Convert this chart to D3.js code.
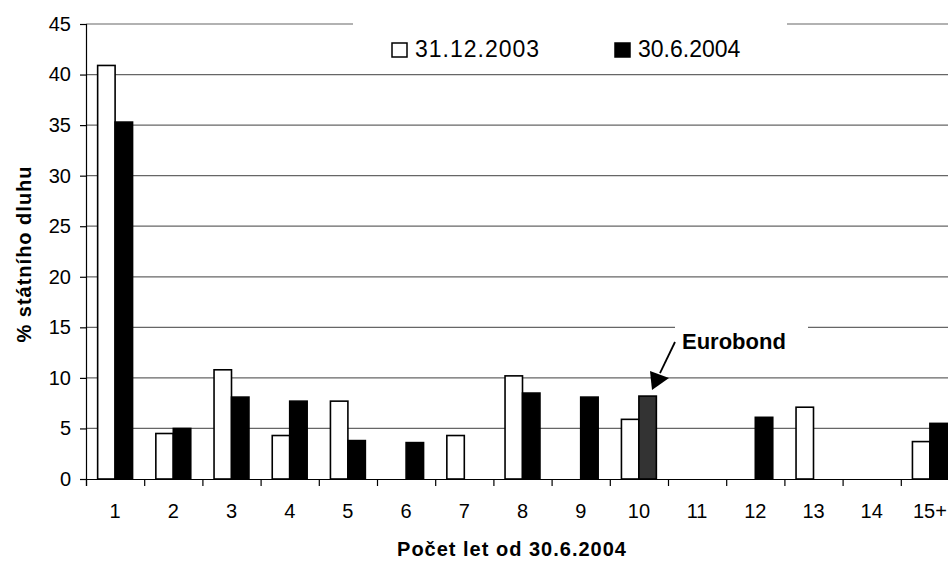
<!DOCTYPE html>
<html>
<head>
<meta charset="utf-8">
<script src="https://cdn.jsdelivr.net/npm/d3@7"></script>
<style>
  body { margin: 0; background: #fff; }
  svg { display: block; font-family: "Liberation Sans", Arial, sans-serif; }
</style>
</head>
<body>
<div class="chart-container"></div>
<script>
// categories = years from 30.6.2004, values = % of state debt
const categories = ["1", "2", "3", "4", "5", "6", "7", "8", "9", "10", "11", "12", "13", "14", "15+"];
const dec2003 = [40.9, 4.5, 10.8, 4.3, 7.7, null, 4.3, 10.2, null, 5.9, null, null, 7.1, null, 3.7];
const jun2004 = [35.3, 5.0, 8.1, 7.7, 3.8, 3.6, null, 8.5, 8.1, 8.2, null, 6.1, null, null, 5.5];
const seriesNames = ["31.12.2003", "30.6.2004"];
const yTicks = [0, 5, 10, 15, 20, 25, 30, 35, 40, 45];
const eurobondCategory = "10";

const width = 948;
const height = 561;
const plotLeft = 86, plotRight = 959, plotTop = 24, plotBottom = 479;

const svg = d3.select(".chart-container").append("svg")
    .attr("width", width)
    .attr("height", height);

const y = d3.scaleLinear().domain([0, 45]).range([plotBottom, plotTop]);
const x = d3.scaleBand().domain(categories).range([plotLeft, plotRight])
    .paddingInner(0.4).paddingOuter(0.2);
const xSeries = d3.scaleBand().domain(seriesNames).range([0, x.bandwidth()]);
const xEdge = d3.scaleLinear().domain([0, categories.length]).range([plotLeft, plotRight]); // tick marks between categories

// gridlines
svg.append("g")
    .selectAll("line")
    .data(yTicks.filter(d => d > 0))
    .enter()
    .append("line")
    .attr("x1", plotLeft).attr("x2", plotRight)
    .attr("y1", d => y(d)).attr("y2", d => y(d))
    .attr("stroke", "#666")
    .attr("stroke-width", 1.2);

// white boxes behind legend + annotation (they cut the gridlines)
svg.append("rect").attr("x", 353).attr("y", 12).attr("width", 434).attr("height", 54).attr("fill", "#fff");
svg.append("rect").attr("x", 675).attr("y", 316).attr("width", 133).attr("height", 52).attr("fill", "#fff");

// bars
const rows = categories.map((c, i) => ({cat: c, values: [dec2003[i], jun2004[i]]}));
const groups = svg.append("g")
    .selectAll("g")
    .data(rows)
    .enter()
    .append("g")
    .attr("transform", d => `translate(${x(d.cat)},0)`);

groups.selectAll("rect")
    .data(d => d.values.map((v, j) => ({cat: d.cat, series: seriesNames[j], j: j, value: v})).filter(e => e.value !== null))
    .enter()
    .append("rect")
    .attr("x", d => xSeries(d.series))
    .attr("y", d => y(d.value))
    .attr("width", xSeries.bandwidth())
    .attr("height", d => y(0) - y(d.value))
    .attr("fill", d => d.j === 0 ? "#fff" : (d.cat === eurobondCategory ? "#333" : "#000"))
    .attr("stroke", "#000")
    .attr("stroke-width", 1.6);

// y axis
const yAxis = svg.append("g")
    .attr("transform", `translate(${plotLeft},0)`)
    .call(d3.axisLeft(y).tickValues(yTicks).tickSize(6).tickPadding(9));
yAxis.select(".domain").attr("stroke", "#000").attr("stroke-width", 1.2);
yAxis.selectAll(".tick line").attr("stroke", "#000").attr("stroke-width", 1.2);
yAxis.selectAll(".tick text")
    .attr("font-size", 20)
    .attr("font-family", "Liberation Sans, Arial, sans-serif")
    .attr("fill", "#000");

// x axis: ticks between categories, labels at centers
const xAxis = svg.append("g")
    .attr("transform", `translate(0,${plotBottom})`)
    .call(d3.axisBottom(xEdge).tickValues(d3.range(0, categories.length + 1)).tickSize(7).tickFormat(""));
xAxis.select(".domain").attr("stroke", "#000").attr("stroke-width", 1.2);
xAxis.selectAll(".tick line").attr("stroke", "#000").attr("stroke-width", 1.2);

svg.append("g")
    .selectAll("text")
    .data(categories)
    .enter()
    .append("text")
    .attr("x", d => x(d) + x.bandwidth() / 2)
    .attr("y", 518)
    .attr("text-anchor", "middle")
    .attr("font-size", 20)
    .text(d => d);

// axis titles
svg.append("text")
    .attr("x", 512).attr("y", 556)
    .attr("text-anchor", "middle")
    .attr("font-size", 20).attr("font-weight", "bold")
    .attr("letter-spacing", 1)
    .text("Počet let od 30.6.2004");

svg.append("text")
    .attr("transform", "translate(31,254) rotate(-90)")
    .attr("text-anchor", "middle")
    .attr("font-size", 20).attr("font-weight", "bold")
    .attr("letter-spacing", 1)
    .text("% státního dluhu");

// legend
const legendX = [392, 615];
seriesNames.forEach((name, i) => {
    svg.append("rect")
        .attr("x", legendX[i]).attr("y", 43)
        .attr("width", 15).attr("height", 14)
        .attr("fill", i === 0 ? "#fff" : "#000")
        .attr("stroke", "#000").attr("stroke-width", 1.5);
    svg.append("text")
        .attr("x", legendX[i] + 23).attr("y", 57)
        .attr("font-size", 23)
        .attr("letter-spacing", i === 0 ? 1 : 0)
        .text(name);
});

// Eurobond annotation
svg.append("text")
    .attr("x", 682).attr("y", 349)
    .attr("font-size", 22).attr("font-weight", "bold")
    .text("Eurobond");

const tip = [x(eurobondCategory) + xSeries(seriesNames[1]) + xSeries.bandwidth() * 0.75, y(8.2) - 6];
svg.append("line")
    .attr("x1", 675).attr("y1", 342)
    .attr("x2", tip[0] + 8).attr("y2", tip[1] - 17)
    .attr("stroke", "#000").attr("stroke-width", 1.8);
svg.append("path")
    .attr("d", `M${tip[0]},${tip[1]} L${tip[0] - 2},${tip[1] - 19} L${tip[0] + 17},${tip[1] - 12} Z`)
    .attr("fill", "#000");
</script>
</body>
</html>
